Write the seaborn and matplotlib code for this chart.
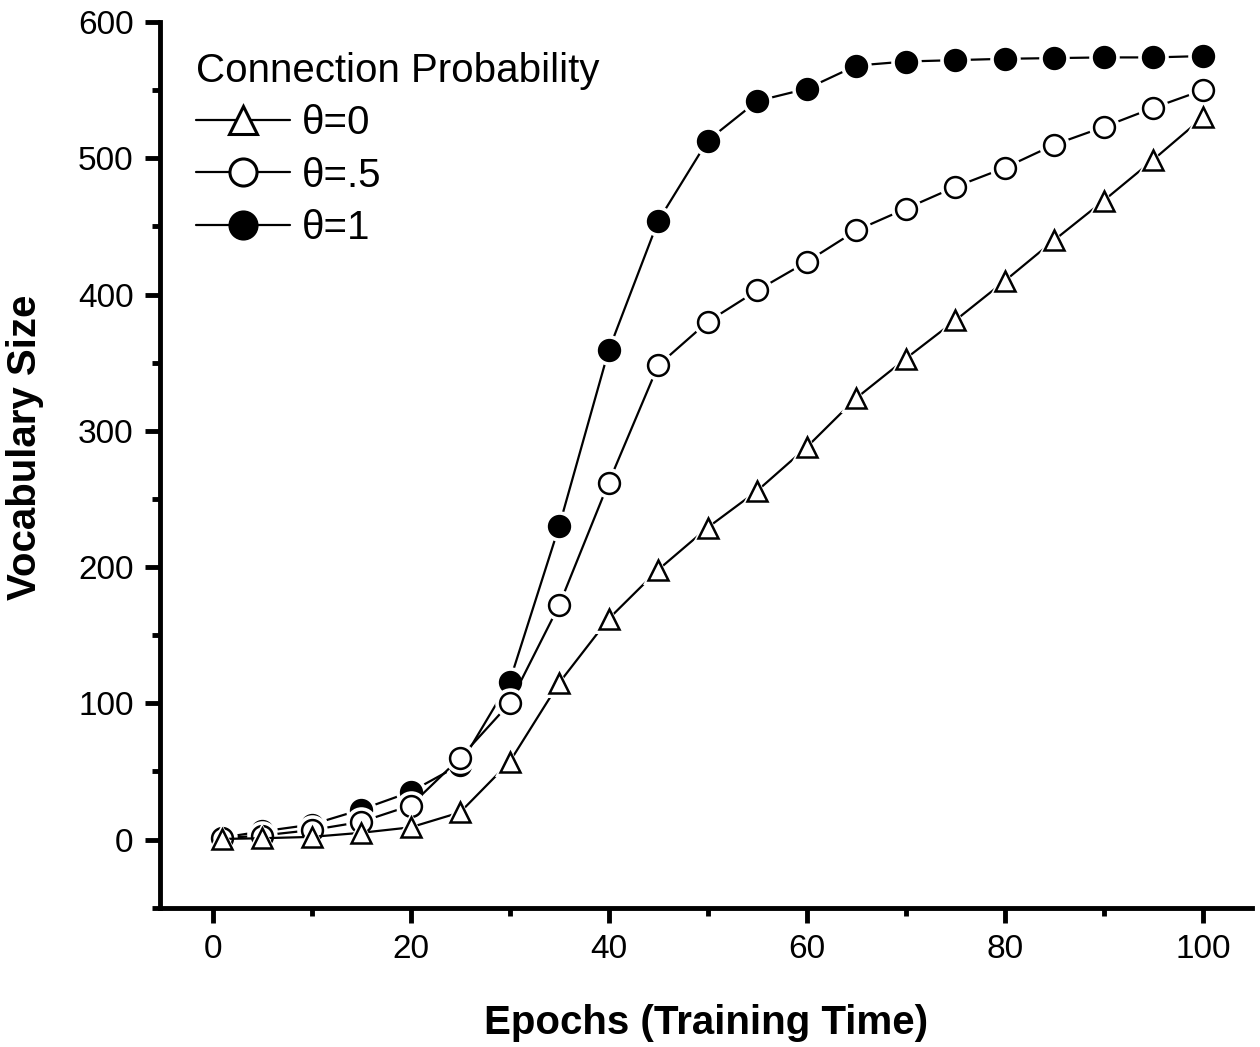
import matplotlib
matplotlib.use("Agg")
import matplotlib.pyplot as plt
from matplotlib.ticker import MultipleLocator
from matplotlib.lines import Line2D
import seaborn as sns
import pandas as pd

epochs = [1, 5, 10, 15, 20, 25, 30, 35, 40, 45, 50, 55, 60, 65, 70, 75, 80, 85, 90, 95, 100]
theta_0 = [0.5, 1, 2, 5, 9, 20, 57, 115, 162, 198, 229, 256, 288, 324, 353, 381, 410, 440, 469, 499, 530]
theta_half = [1, 3, 7, 13, 25, 60, 100, 172, 262, 348, 380, 403, 424, 447, 463, 479, 493, 510, 523, 537, 550]
theta_1 = [1.5, 6, 11, 22, 35, 55, 116, 230, 359, 454, 513, 542, 551, 568, 571, 572, 573, 573.5, 574, 574, 575]

labels = ["θ=0", "θ=.5", "θ=1"]

sns.set_style("ticks")
plt.rcParams['font.family'] = ['Liberation Sans', 'DejaVu Sans']
for k in ["text.color", "axes.labelcolor", "xtick.color", "ytick.color", "axes.edgecolor"]:
    plt.rcParams[k] = "black"

fig = plt.figure(figsize=(12.6, 10.47), dpi=100)
ax = fig.add_axes([0.127, 0.133, 0.867, 0.846])

MS = 15
# filled first so the open markers sit on top, like the original
series = [
    (theta_1, "o", "black"),
    (theta_half, "o", "white"),
    (theta_0, "^", "white"),
]
for vals, mk, fc in series:
    df = pd.DataFrame({"epoch": epochs, "vocab": vals})
    # connecting line
    sns.lineplot(data=df, x="epoch", y="vocab", ax=ax, color="black", linewidth=1.6)
    # white halo so the line stops short of each marker (origin style)
    sns.lineplot(data=df, x="epoch", y="vocab", ax=ax, linewidth=0, marker=mk,
                 markersize=MS + 7, markerfacecolor="white", markeredgewidth=0)
    sns.lineplot(data=df, x="epoch", y="vocab", ax=ax, linewidth=0, marker=mk,
                 markersize=MS, markerfacecolor=fc, markeredgecolor="black",
                 markeredgewidth=1.8)

ax.set_xlim(-5.3, 105)
ax.set_ylim(-50, 600)
ax.xaxis.set_major_locator(MultipleLocator(20))
ax.xaxis.set_minor_locator(MultipleLocator(10))
ax.yaxis.set_major_locator(MultipleLocator(100))
ax.yaxis.set_minor_locator(MultipleLocator(50))

for side in ["top", "right"]:
    ax.spines[side].set_visible(False)
for side in ["left", "bottom"]:
    ax.spines[side].set_linewidth(3.5)

ax.tick_params(which="major", direction="out", length=11, width=3.5, labelsize=24, pad=8)
ax.tick_params(which="minor", direction="out", length=6, width=3.5)

ax.set_xlabel("Epochs (Training Time)", fontsize=29, fontweight="bold", labelpad=28)
ax.set_ylabel("Vocabulary Size", fontsize=29, fontweight="bold")
ax.yaxis.set_label_coords(-0.106, 0.52)

# legend proxies: line - marker - line
proxies = [
    Line2D([], [], color="black", lw=1.6, marker="^", markersize=MS * 1.35,
           markerfacecolor="white", markeredgewidth=2.2),
    Line2D([], [], color="black", lw=1.6, marker="o", markersize=MS * 1.3,
           markerfacecolor="white", markeredgewidth=2.2),
    Line2D([], [], color="black", lw=1.6, marker="o", markersize=MS * 1.3,
           markerfacecolor="black", markeredgewidth=2.2),
]
leg = ax.legend(proxies, labels, title="Connection Probability", loc="upper left",
                frameon=False, fontsize=29, title_fontsize=29, handlelength=2.35,
                handletextpad=0.3, labelspacing=0.36, bbox_to_anchor=(0.003, 1.003),
                borderaxespad=0.4)
leg._legend_box.align = "left"

fig.savefig("out.png", dpi=100)
